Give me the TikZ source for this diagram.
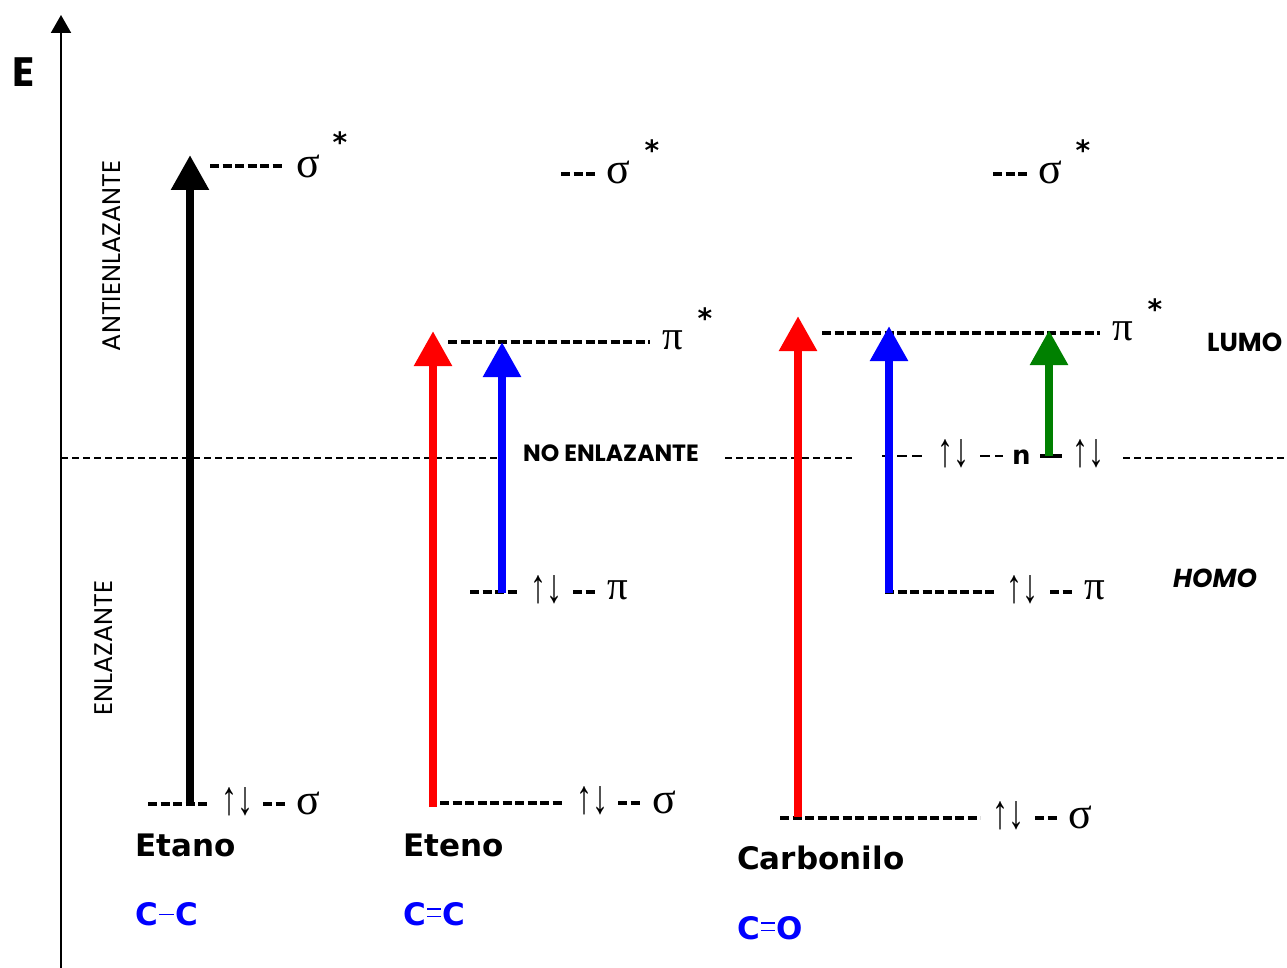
\documentclass[tikz,border=0pt]{standalone}
\usepackage{fontspec}
\setmainfont{DejaVu Sans}
\newfontfamily\grkfont{Liberation Serif}
\newfontfamily\comicfont{Poppins}
\usetikzlibrary{arrows.meta}
\definecolor{grn}{RGB}{0,128,0}
\newcommand{\dbl}{\hspace{1.5pt}\rlap{\rule[15.5pt]{14pt}{1.5pt}}\rule[8pt]{14pt}{1.5pt}\hspace{1.5pt}}
\begin{document}
\begin{tikzpicture}[x=1pt,y=-1pt,
  lvl/.style={line width=3.3pt, dash pattern=on 9pt off 3.5pt},
  ndash/.style={line width=2pt, dash pattern=on 10pt off 5pt},
  guide/.style={line width=1.4pt, dash pattern=on 7pt off 4pt},
  trans/.style={line width=8.5pt, -{Triangle[width=36pt,length=35pt]}},
  grk/.style={font=\grkfont\fontsize{44}{44}\selectfont, inner sep=0pt, anchor=west},
  grp/.style={font=\grkfont\fontsize{41}{41}\selectfont, inner sep=0pt, anchor=west},
  ud/.style={font=\grkfont\fontsize{32}{32}\selectfont, inner sep=0pt, anchor=west, yscale=1.5},
  ast/.style={font=\bfseries\fontsize{28}{28}\selectfont, inner sep=0pt},
  mol/.style={font=\bfseries\fontsize{31}{31}\selectfont, inner sep=0pt, anchor=west},
  form/.style={font=\bfseries\fontsize{31}{31}\selectfont, text=blue, inner sep=0pt, anchor=west},
  cbold/.style={font=\comicfont\bfseries\fontsize{26}{26}\selectfont, inner sep=0pt, anchor=west},
  creg/.style={font=\comicfont\fontsize{25.5}{25.5}\selectfont, inner sep=0pt, rotate=90}
]
\useasboundingbox (0,0) rectangle (1287,968);

% energy axis
\coordinate (ax0) at (61,968);
\coordinate (ax1) at (61,15);
\draw[line width=2pt, -{Triangle[width=20pt,length=18pt]}] (ax0) -- (ax1);
\node[font=\comicfont\bfseries\fontsize{41}{41}\selectfont, inner sep=0pt] (E) at (24,72) {E};

% side labels
\node[creg] (anti) at (112,256) {ANTIENLAZANTE};
\node[creg] (enl) at (104,648) {ENLAZANTE};

% non-bonding guide line
\draw[guide] (61,458) -- (497,458);
\draw[guide] (725,458) -- (852,458);
\draw[guide] (1123,458) -- (1287,458);
\node[cbold, font=\comicfont\bfseries\fontsize{23.5}{23.5}\selectfont] (noenl) at (523,453) {NO ENLAZANTE};

% ---------------- Etano ----------------
\draw[lvl] (210,166) -- (285,166);
\node[grk] (etSs) at (296,166) {σ};
\node[ast] (etSsA) at (340,142) {*};
\draw[lvl] (148,804) -- (208,804);
\node[ud] (etUD) at (221,802) {↑↓};
\draw[lvl] (263,804) -- (287,804);
\node[grk] (etS) at (296,803) {σ};
\coordinate (etA0) at (190,806);
\coordinate (etA1) at (190,155);
\draw[trans, black] (etA0) -- (etA1);
\node[mol] (etano) at (135,845) {Etano};
\node[form] (cc1) at (135,914) {C\hspace{1.5pt}\rule[10pt]{15pt}{1.6pt}\hspace{1.5pt}C};

% ---------------- Eteno ----------------
\draw[lvl] (561,174) -- (596,174);
\node[grk] (enSs) at (606,172) {σ};
\node[ast] (enSsA) at (652,150) {*};
\draw[lvl] (448,342) -- (650,342);
\node[grp] (enPs) at (662,340) {π};
\node[ast] (enPsA) at (705,318) {*};
\draw[lvl] (470,592) -- (520,592);
\node[ud] (enUD1) at (530,590) {↑↓};
\draw[lvl] (573,592) -- (596,592);
\node[grp] (enP) at (607,590) {π};
\draw[lvl] (440,803) -- (565,803);
\node[ud] (enUD2) at (576,801) {↑↓};
\draw[lvl] (618,803) -- (641,803);
\node[grk] (enS) at (652,802) {σ};
\coordinate (enR0) at (433,807);
\coordinate (enR1) at (433,331);
\draw[trans, red] (enR0) -- (enR1);
\coordinate (enB0) at (502,593);
\coordinate (enB1) at (502,342);
\draw[trans, blue] (enB0) -- (enB1);
\node[mol] (eteno) at (403,845) {Eteno};
\node[form] (cc2) at (403,914) {C\dbl C};

% ---------------- Carbonilo ----------------
\draw[lvl] (993,174) -- (1028,174);
\node[grk] (caSs) at (1038,172) {σ};
\node[ast] (caSsA) at (1083,150) {*};
\draw[lvl] (822,333) -- (1100,333);
\node[grp] (caPs) at (1112,331) {π};
\node[ast] (caPsA) at (1155,309) {*};
% n level
\draw[ndash] (882,456) -- (925,456);
\node[ud] (caUD0) at (937,454) {↑↓};
\draw[ndash] (980,456) -- (1003,456);
\node[font=\bfseries\fontsize{26}{26}\selectfont, inner sep=0pt, anchor=west] (nlab) at (1012,457) {n};
\draw[line width=3.5pt] (1040,456) -- (1062,456);
\node[ud] (caUD1) at (1072,454) {↑↓};
% pi level
\draw[lvl] (885,592) -- (995,592);
\node[ud] (caUD2) at (1006,590) {↑↓};
\draw[lvl] (1050,592) -- (1073,592);
\node[grp] (caP) at (1084,590) {π};
% sigma level
\draw[lvl] (780,818) -- (980,818);
\node[ud] (caUD3) at (992,816) {↑↓};
\draw[lvl] (1035,818) -- (1058,818);
\node[grk] (caS) at (1068,817) {σ};
\coordinate (caR0) at (798,817);
\coordinate (caR1) at (798,316);
\draw[trans, red] (caR0) -- (caR1);
\coordinate (caB0) at (889,593);
\coordinate (caB1) at (889,326);
\draw[trans, blue] (caB0) -- (caB1);
\coordinate (caG0) at (1049,456);
\coordinate (caG1) at (1049,330);
\draw[trans, grn] (caG0) -- (caG1);
\node[mol] (carb) at (737,858) {Carbonilo};
\node[form] (co) at (737,928) {C\dbl O};

% LUMO / HOMO
\node[cbold] (lumo) at (1207,342) {LUMO};
\node[cbold, font=\comicfont\bfseries\itshape\fontsize{26}{26}\selectfont] (homo) at (1173,578) {HOMO};
\end{tikzpicture}
\end{document}
